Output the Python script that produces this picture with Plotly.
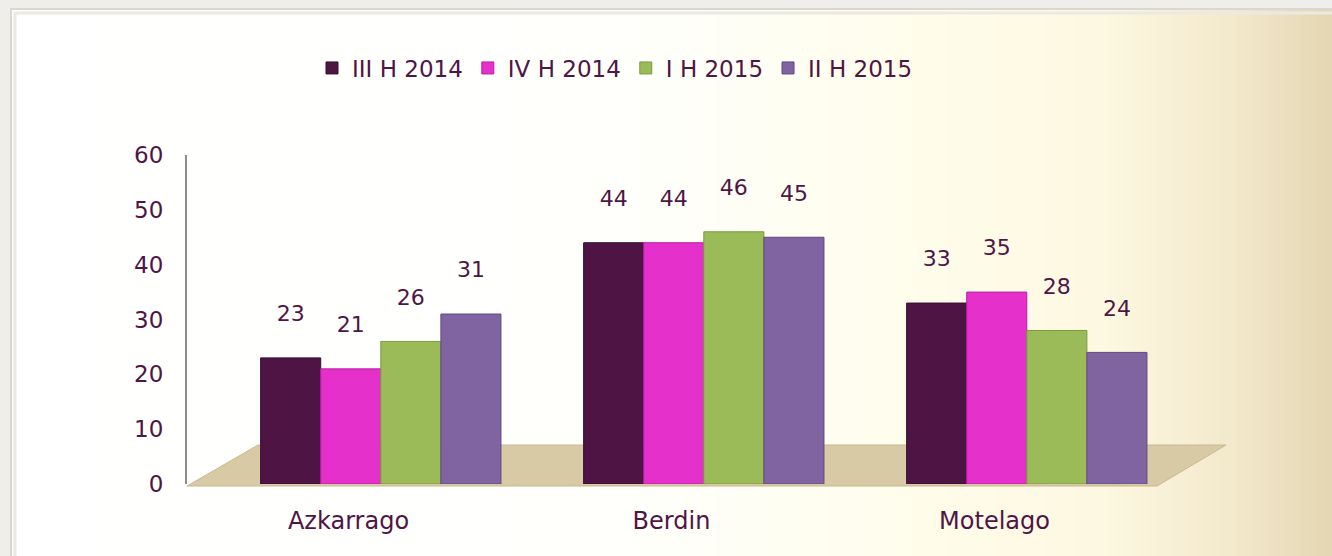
import plotly.graph_objects as go

categories = ["Azkarrago", "Berdin", "Motelago"]
series_names = ["III H 2014", "IV H 2014", "I H 2015", "II H 2015"]
iii_h_2014 = [23, 44, 33]
iv_h_2014 = [21, 44, 35]
i_h_2015 = [26, 46, 28]
ii_h_2015 = [31, 45, 24]
y_ticks = [0, 10, 20, 30, 40, 50, 60]

series_values = [iii_h_2014, iv_h_2014, i_h_2015, ii_h_2015]
colors = ["#4e1443", "#e630cc", "#9bbb59", "#8064a2"]
line_colors = ["#3a0c32", "#b81fa0", "#7a9a40", "#5f4a80"]
TXT = "#4f1545"
FONT = "DejaVu Sans"

W, H = 1332, 556
L, R, T, B = 187, 176, 155, 72
pw, ph = W - L - R, H - T - B

def px(x):
    return (x - L) / pw

def py(y):
    return (H - B - y) / ph

fig = go.Figure()

bw = 0.186
shift = 0.10
for i, (name, vals) in enumerate(zip(series_names, series_values)):
    fig.add_trace(go.Bar(
        x=categories, y=vals, name=name,
        width=bw, offset=-2 * bw + i * bw + shift,
        marker=dict(color=colors[i], line=dict(color=line_colors[i], width=1)),
        text=vals, texttemplate="%{text}<br> ", textposition="outside",
        textfont=dict(family=FONT, size=22, color=TXT),
        cliponaxis=False,
    ))

shapes = []

def lerp(c1, c2, t):
    return tuple(round(a + (b - a) * t) for a, b in zip(c1, c2))

stops = [(0, (255, 255, 255)), (620, (255, 255, 252)), (900, (255, 253, 236)),
         (1100, (253, 248, 225)), (1230, (243, 233, 205)), (1332, (228, 214, 178))]

def col_at(x):
    for (x0, c0), (x1, c1) in zip(stops, stops[1:]):
        if x0 <= x <= x1:
            return "rgb(%d,%d,%d)" % lerp(c0, c1, (x - x0) / (x1 - x0))
    return "rgb(%d,%d,%d)" % stops[-1][1]

x0 = 12
step = 8
for xa in range(x0, W, step):
    xb = min(xa + step, W)
    shapes.append(dict(type="rect", xref="paper", yref="paper",
                       x0=px(xa), x1=px(xb), y0=py(H), y1=py(9),
                       fillcolor=col_at(xa + step / 2), line=dict(width=0), layer="below"))
shapes.append(dict(type="rect", xref="paper", yref="paper",
                   x0=px(11), x1=px(W + 5), y0=py(H + 5), y1=py(9),
                   line=dict(color="#d9d7cf", width=2), layer="below"))
shapes.append(dict(type="rect", xref="paper", yref="paper",
                   x0=px(15), x1=px(W + 5), y0=py(H + 5), y1=py(13),
                   line=dict(color="#ebe9e2", width=3), layer="below"))
# floor
floor_pts = [(187, 486), (1157, 486), (1226, 445), (258, 445)]
path = "M " + " L ".join("%f,%f" % (px(a), py(b)) for a, b in floor_pts) + " Z"
shapes.append(dict(type="path", xref="paper", yref="paper", path=path,
                   fillcolor="#d9caa6", line=dict(color="#c9b88f", width=1), layer="below"))

fig.update_layout(
    width=W, height=H,
    margin=dict(l=L, r=R, t=T, b=B),
    paper_bgcolor="#efeeea",
    plot_bgcolor="rgba(0,0,0,0)",
    barmode="overlay",
    shapes=shapes,
    showlegend=True,
    legend=dict(orientation="h", x=px(615), xanchor="center", y=py(68), yanchor="middle",
                font=dict(family=FONT, size=23, color=TXT),
                bgcolor="rgba(0,0,0,0)", itemwidth=30, tracegroupgap=0),
    xaxis=dict(showgrid=False, showline=False, zeroline=False,
               ticks="outside", ticklen=15, tickcolor="rgba(0,0,0,0)",
               tickfont=dict(family=FONT, size=24, color=TXT), range=[-0.5, 2.5]),
    yaxis=dict(range=[0, 60], tickvals=y_ticks, showgrid=False, zeroline=False,
               showline=True, linecolor="#8c8c8c", linewidth=2,
               ticks="outside", ticklen=17, tickcolor="rgba(0,0,0,0)",
               tickfont=dict(family=FONT, size=23, color=TXT)),
    font=dict(family=FONT, color=TXT),
)

fig.write_html("out.html")
